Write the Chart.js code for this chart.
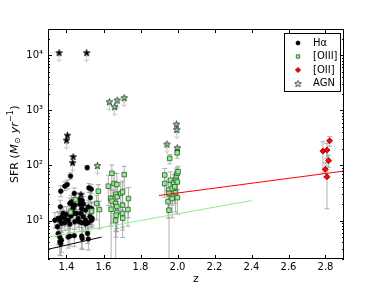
<!DOCTYPE html>
<html>
<head>
<meta charset="utf-8">
<script src="https://cdn.jsdelivr.net/npm/chart.js@4.4.1/dist/chart.umd.min.js"></script>
<style>
  html, body { margin: 0; padding: 0; background: #fff; }
  canvas { display: block; }
</style>
</head>
<body>
<canvas id="chart" width="384" height="288"></canvas>
<script>
// H-alpha sample: redshift, SFR, symmetric error (dex)
const zHa = [1.512, 1.422, 1.404, 1.391, 1.369, 1.521, 1.534, 1.529, 1.442, 1.472, 1.485, 1.367, 1.418, 1.427, 1.436, 1.445, 1.472, 1.491, 1.436, 1.482, 1.503, 1.518, 1.536, 1.337, 1.355, 1.364, 1.376, 1.391, 1.409, 1.424, 1.436, 1.454, 1.463, 1.478, 1.491, 1.503, 1.527, 1.539, 1.351, 1.373, 1.391, 1.418, 1.445, 1.469, 1.482, 1.503, 1.518, 1.536, 1.355, 1.364, 1.373, 1.409, 1.418, 1.442, 1.482, 1.514, 1.518, 1.364, 1.369, 1.485, 1.382, 1.400];
const sfrHa = [91, 64, 45, 42, 34, 39, 37, 26, 31, 24, 23, 17.7, 20.4, 21.8, 19, 19, 19.8, 19.8, 16.5, 16.5, 15.4, 17.7, 16.5, 10.1, 10.9, 10.1, 11.7, 10.9, 10.1, 12, 13.4, 13.4, 10.9, 13.4, 11.7, 10.1, 11.7, 10.9, 7.7, 8.8, 9.1, 8.6, 9.5, 9.5, 9.1, 8.6, 9.1, 10.1, 5.8, 5.0, 4.4, 5.0, 5.2, 5.3, 5.2, 5.8, 4.6, 4.1, 3.8, 4.7, 13.4, 12.9];
const errHa = [0.04, 0.06, 0.08, 0.08, 0.1, 0.08, 0.08, 0.1, 0.1, 0.12, 0.12, 0.12, 0.1, 0.12, 0.14, 0.12, 0.12, 0.14, 0.12, 0.14, 0.14, 0.12, 0.12, 0.14, 0.12, 0.16, 0.12, 0.14, 0.16, 0.14, 0.12, 0.14, 0.16, 0.14, 0.12, 0.16, 0.14, 0.12, 0.18, 0.16, 0.14, 0.16, 0.14, 0.18, 0.16, 0.14, 0.16, 0.12, 0.2, 0.18, 0.22, 0.2, 0.18, 0.2, 0.22, 0.18, 0.2, 0.24, 0.22, 0.2, 0.12, 0.14];

// [OIII] sample, asymmetric errors (dex)
const zO3 = [1.422, 1.449, 1.536, 1.563, 1.572, 1.578, 1.626, 1.645, 1.639, 1.646, 1.641, 1.657, 1.672, 1.666, 1.674, 1.666, 1.672, 1.672, 1.668, 1.666, 1.693, 1.703, 1.712, 1.703, 1.703, 1.704, 1.732, 1.735, 1.931, 1.931, 1.958, 1.962, 1.952, 1.954, 1.949, 1.954, 1.971, 1.971, 1.98, 1.985, 1.992, 1.994, 1.998, 2.003, 1.998, 1.989, 1.999, 1.999];
const sfrO3 = [14.2, 24, 14.8, 20.4, 34, 15.8, 42, 72, 25, 22.5, 16, 47, 45, 30, 27, 20.4, 18, 14, 12.5, 10, 31, 33, 68, 19, 13.4, 11, 15.8, 25, 67, 47, 134, 54, 36, 31, 22, 15.4, 25, 38, 48, 41, 54, 65, 72, 77, 170, 32, 26, 50];
const errO3Down = [0.3, 0.25, 0.3, 0.3, 0.25, 0.35, 0.35, 0.3, 0.5, 0.4, 0.9, 0.35, 0.4, 0.35, 0.3, 0.5, 0.4, 0.35, 0.4, 0.75, 0.3, 0.35, 0.25, 0.4, 0.3, 0.35, 0.3, 0.35, 0.2, 0.25, 0.1, 0.3, 0.35, 0.3, 0.3, 0.9, 0.35, 0.3, 0.3, 0.3, 0.25, 0.25, 0.3, 0.2, 0.1, 0.35, 0.3, 0.3];
const errO3Up = [0.15, 0.12, 0.15, 0.15, 0.12, 0.15, 0.2, 0.15, 0.25, 0.2, 0.25, 0.2, 0.2, 0.2, 0.2, 0.2, 0.25, 0.2, 0.25, 0.25, 0.2, 0.2, 0.15, 0.2, 0.2, 0.25, 0.2, 0.2, 0.12, 0.15, 0.07, 0.15, 0.18, 0.2, 0.2, 0.25, 0.18, 0.15, 0.15, 0.15, 0.12, 0.12, 0.1, 0.1, 0.06, 0.2, 0.15, 0.15];

// [OII] sample
const zO2 = [2.786, 2.808, 2.822, 2.817, 2.799, 2.808];
const sfrO2 = [182, 190, 280, 122, 85, 62];
const errO2Down = [0.4, 0.15, 0.1, 0.12, 0.15, 0.58];
const errO2Up = [0.17, 0.12, 0.08, 0.1, 0.12, 0.48];

// AGN (upper limits)
const zAgnHa = [1.36, 1.509, 1.405, 1.4, 1.436, 1.433, 1.478];
const sfrAgnHa = [11200, 11200, 355, 290, 145, 113, 30];
const zAgnO3 = [1.567, 1.632, 1.66, 1.674, 1.712, 1.943, 1.994, 1.996, 1.999];
const sfrAgnO3 = [100, 1440, 1170, 1540, 1700, 245, 565, 450, 210];

// main-sequence lines
const zFitHa = [1.3, 1.59];
const sfrFitHa = [3.0, 5.0];
const zFitO3 = [1.3, 2.4];
const sfrFitO3 = [5.0, 23];
const zFitO2 = [1.9, 2.9];
const sfrFitO2 = [28.5, 79];

const xTicks = [1.4, 1.6, 1.8, 2.0, 2.2, 2.4, 2.6, 2.8];
const yDecades = [10, 100, 1000, 10000];
const supers = { 1: "¹", 2: "²", 3: "³", 4: "⁴" };

const FONT = `"DejaVu Sans", sans-serif`;
const GREEN = `#90ee90`;
const pts = (xs, ys) => xs.map((x, i) => ({ x, y: ys[i] }));

function starImage(fill) {
  const c = document.createElement(`canvas`);
  c.width = c.height = 9;
  const ctx = c.getContext(`2d`);
  ctx.beginPath();
  for (let i = 0; i < 10; i++) {
    const r = i % 2 ? 1.4 : 3.5;
    const a = -Math.PI / 2 + (i * Math.PI) / 5;
    ctx.lineTo(4.5 + r * Math.cos(a), 4.9 + r * Math.sin(a));
  }
  ctx.closePath();
  ctx.fillStyle = fill;
  ctx.fill();
  ctx.strokeStyle = `#000`;
  ctx.lineWidth = 0.7;
  ctx.stroke();
  return c;
}

const starBlack = starImage(`#000`);
const starGreen = starImage(GREEN);
const starWhite = starImage(`#fff`);

// gray error bars and upper-limit arrows, under the markers
const errorBars = {
  id: `errorBars`,
  beforeDatasetsDraw(chart) {
    const { ctx, chartArea: a, scales: { x, y } } = chart;
    ctx.save();
    ctx.beginPath();
    ctx.rect(a.left, a.top, a.width, a.height);
    ctx.clip();
    ctx.lineWidth = 1;
    chart.data.datasets.forEach((ds) => {
      if (ds.errDown) {
        ctx.strokeStyle = `rgba(150,150,150,0.75)`;
        ds.data.forEach((p, i) => {
          const px = x.getPixelForValue(p.x);
          const lo = y.getPixelForValue(p.y / 10 ** ds.errDown[i]);
          const hi = y.getPixelForValue(p.y * 10 ** ds.errUp[i]);
          ctx.beginPath();
          ctx.moveTo(px, lo); ctx.lineTo(px, hi);
          ctx.moveTo(px - 2.5, lo); ctx.lineTo(px + 2.5, lo);
          ctx.moveTo(px - 2.5, hi); ctx.lineTo(px + 2.5, hi);
          ctx.stroke();
        });
      }
      if (ds.upperLimit) {
        ctx.strokeStyle = `#c4c4c4`;
        ds.data.forEach((p) => {
          const px = x.getPixelForValue(p.x);
          const top = y.getPixelForValue(p.y);
          const tip = y.getPixelForValue(p.y * ds.upperLimit);
          ctx.beginPath();
          ctx.moveTo(px, top); ctx.lineTo(px, tip);
          ctx.moveTo(px - 2.5, top + 3); ctx.lineTo(px + 2.5, top + 3);
          ctx.moveTo(px - 2.5, tip - 2.5); ctx.lineTo(px, tip); ctx.lineTo(px + 2.5, tip - 2.5);
          ctx.stroke();
        });
      }
    });
    ctx.restore();
  },
};

// frame, inward ticks, axis titles, legend
const frame = {
  id: `frame`,
  afterDatasetsDraw(chart) {
    const { ctx, chartArea: a, scales: { x, y } } = chart;
    ctx.save();
    ctx.strokeStyle = `#000`;
    ctx.lineWidth = 1;
    ctx.beginPath();
    x.ticks.forEach((t) => {
      const px = Math.round(x.getPixelForValue(t.value)) + 0.5;
      ctx.moveTo(px, a.bottom); ctx.lineTo(px, a.bottom - 4);
      ctx.moveTo(px, a.top); ctx.lineTo(px, a.top + 4);
    });
    y.ticks.forEach((t) => {
      const py = Math.round(y.getPixelForValue(t.value)) + 0.5;
      const len = t.major ? 4 : 2;
      ctx.moveTo(a.left, py); ctx.lineTo(a.left + len, py);
      ctx.moveTo(a.right, py); ctx.lineTo(a.right - len, py);
    });
    ctx.stroke();
    ctx.strokeRect(a.left + 0.5, a.top + 0.5, a.width - 1, a.height - 1);

    // x title
    ctx.fillStyle = `#000`;
    ctx.font = `11px ${FONT}`;
    ctx.textAlign = `center`;
    ctx.textBaseline = `alphabetic`;
    ctx.fillText(`z`, (a.left + a.right) / 2, 282);

    // y title with mathtext-like pieces
    const pieces = [
      { t: `SFR (`, f: `11px ${FONT}`, dy: 0 },
      { t: `M`, f: `italic 11px ${FONT}`, dy: 0 },
      { t: `⊙`, f: `8px ${FONT}`, dy: 2.5 },
      { t: ` yr`, f: `italic 11px ${FONT}`, dy: 0 },
      { t: `−1`, f: `8px ${FONT}`, dy: -4.5 },
      { t: `)`, f: `11px ${FONT}`, dy: 0 },
    ];
    const widths = pieces.map((p) => { ctx.font = p.f; return ctx.measureText(p.t).width + 0.4; });
    const total = widths.reduce((s, w) => s + w, 0);
    ctx.translate(15, (a.top + a.bottom) / 2);
    ctx.rotate(-Math.PI / 2);
    ctx.textAlign = `left`;
    ctx.textBaseline = `middle`;
    let cx = -total / 2;
    pieces.forEach((p, i) => {
      ctx.font = p.f;
      ctx.fillText(p.t, cx, p.dy);
      cx += widths[i];
    });
    ctx.restore();

    // legend
    ctx.save();
    const box = { left: a.right - 60, top: a.top + 4, w: 56, h: 58 };
    ctx.fillStyle = `#fff`;
    ctx.fillRect(box.left, box.top, box.w, box.h);
    ctx.strokeStyle = `#000`;
    ctx.strokeRect(box.left + 0.5, box.top + 0.5, box.w, box.h);
    const entries = [
      { label: `Hα`, style: { pointStyle: `circle`, radius: 2, borderWidth: 0.8 }, fill: `#000`, edge: `#000` },
      { label: `[OIII]`, style: { pointStyle: `rect`, radius: 2.4, borderWidth: 0.8 }, fill: GREEN, edge: `#2d5a2d` },
      { label: `[OII]`, style: { pointStyle: `rectRot`, radius: 2.6, borderWidth: 0.8 }, fill: `#ff0000`, edge: `#8b0000` },
      { label: `AGN`, style: { pointStyle: starWhite, radius: 3 }, fill: `#fff`, edge: `#000` },
    ];
    entries.forEach((e, i) => {
      const ey = box.top + 10 + i * 13.5;
      ctx.fillStyle = e.fill;
      ctx.strokeStyle = e.edge;
      ctx.lineWidth = e.style.borderWidth || 1;
      Chart.helpers.drawPoint(ctx, { ...e.style, rotation: 0 }, box.left + 14, ey);
      ctx.fillStyle = `#000`;
      ctx.font = `10px ${FONT}`;
      ctx.textAlign = `left`;
      ctx.textBaseline = `middle`;
      ctx.fillText(e.label, box.left + 29, ey);
    });
    ctx.restore();
  },
};

const lineSet = (xs, ys, color) => ({
  type: `scatter`,
  data: pts(xs, ys),
  showLine: true,
  borderColor: color,
  borderWidth: 1,
  pointRadius: 0,
  order: 0,
});

new Chart(document.getElementById(`chart`), {
  type: `scatter`,
  data: {
    datasets: [
      lineSet(zFitHa, sfrFitHa, `#000`),
      lineSet(zFitO3, sfrFitO3, GREEN),
      lineSet(zFitO2, sfrFitO2, `#ff0000`),
      {
        data: pts(zAgnHa, sfrAgnHa), pointStyle: starBlack, upperLimit: 0.68, order: 1,
      },
      {
        data: pts(zAgnO3, sfrAgnO3), pointStyle: starGreen, upperLimit: 0.68, order: 1,
      },
      {
        data: pts(zO2, sfrO2), errDown: errO2Down, errUp: errO2Up,
        pointStyle: `rectRot`, pointRadius: 3, backgroundColor: `#ff0000`,
        borderColor: `#8b0000`, borderWidth: 0.8, order: 2,
      },
      {
        data: pts(zO3, sfrO3), errDown: errO3Down, errUp: errO3Up,
        pointStyle: `rect`, pointRadius: 3.2, backgroundColor: GREEN,
        borderColor: `#2d5a2d`, borderWidth: 0.8, order: 3,
      },
      {
        data: pts(zHa, sfrHa), errDown: errHa, errUp: errHa,
        pointStyle: `circle`, pointRadius: 2.4, backgroundColor: `#000`,
        borderColor: `#000`, borderWidth: 0.5, order: 4,
      },
    ],
  },
  options: {
    responsive: false,
    animation: false,
    events: [],
    layout: { padding: { top: 29, right: 40, left: 0, bottom: 0 } },
    plugins: { legend: { display: false }, tooltip: { enabled: false } },
    scales: {
      x: {
        type: `linear`,
        min: 1.3,
        max: 2.9,
        grid: { display: false, drawTicks: false },
        border: { display: false },
        afterBuildTicks: (s) => { s.ticks = xTicks.map((value) => ({ value })); },
        afterFit: (s) => { s.height = 29; },
        ticks: {
          padding: 2,
          color: `#000`,
          font: { family: FONT, size: 10 },
          callback: (v) => v.toFixed(1),
        },
      },
      y: {
        type: `logarithmic`,
        min: 2,
        max: 30000,
        grid: { display: false, drawTicks: false },
        border: { display: false },
        afterBuildTicks: (s) => {
          const ticks = [];
          for (let d = 1; d <= 10000; d *= 10) {
            for (let m = 1; m < 10; m++) {
              const v = d * m;
              if (v >= 2 && v <= 30000) ticks.push({ value: v, major: yDecades.includes(v) });
            }
          }
          s.ticks = ticks;
        },
        afterFit: (s) => { s.width = 48; },
        ticks: {
          autoSkip: false,
          padding: 5,
          color: `#000`,
          font: { family: FONT, size: 10 },
          callback: (v) => {
            const e = Math.round(Math.log10(v));
            return yDecades.includes(v) ? `10${supers[e]}` : ``;
          },
        },
      },
    },
  },
  plugins: [errorBars, frame],
});
</script>
</body>
</html>
